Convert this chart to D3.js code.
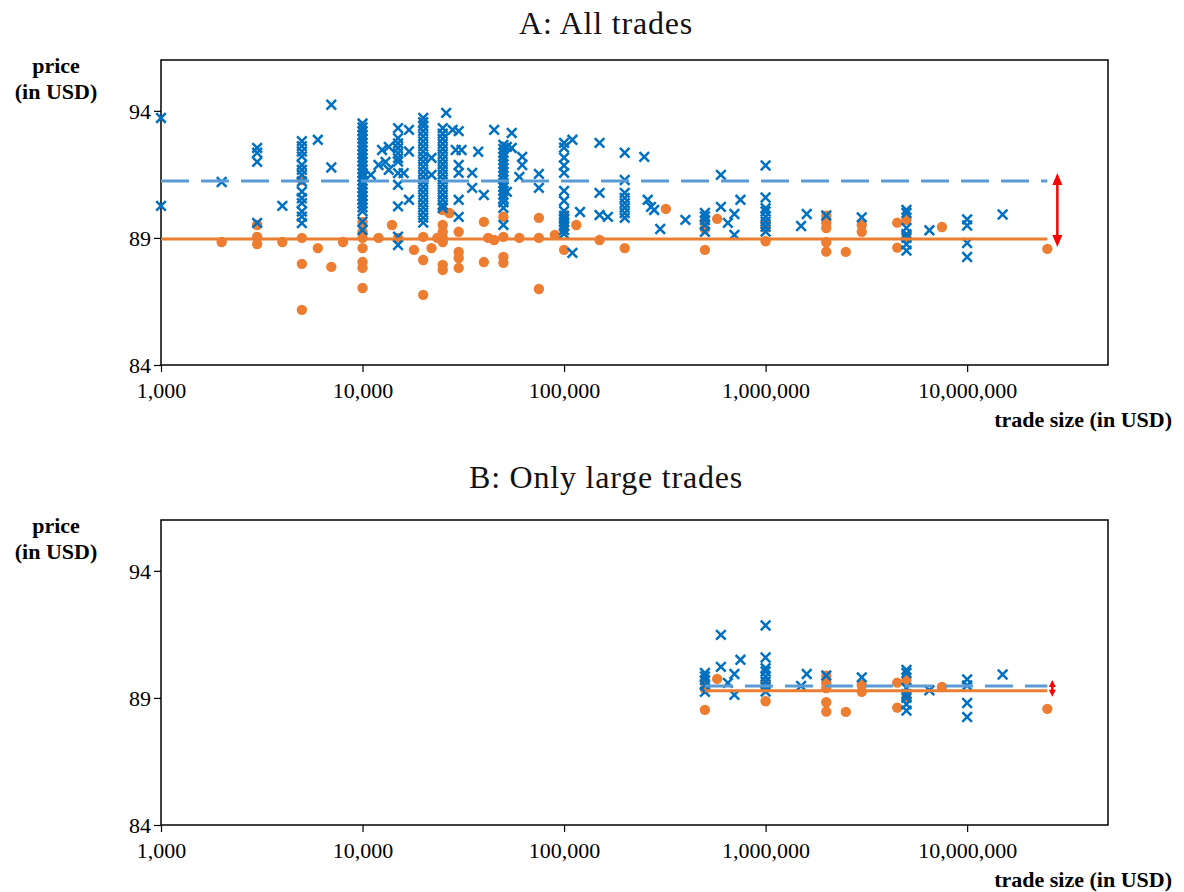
<!DOCTYPE html>
<html><head><meta charset="utf-8">
<script src="https://cdn.jsdelivr.net/npm/d3@7"></script>
<style>body{margin:0;background:#fff} svg{display:block}</style>
</head><body><svg id="c" width="1184" height="892"></svg>
<script>
// ---- data (trade size in USD, prices in USD) ----
const blueSizes = [1000,2000,3000,4000,5000,6000,7000,10000,11000,12000,12500,13000,13500,15000,16000,17000,20000,22000,25000,26000,28000,29000,30000,31000,35000,37500,40000,45000,50000,52000,55000,60000,62000,75000,100000,110000,120000,150000,165000,200000,250000,260000,270000,280000,300000,400000,500000,600000,650000,700000,750000,1000000,1500000,1600000,2000000,3000000,5000000,6500000,10000000,15000000];
const bluePrices = [
  [93.72,90.26],[91.2],[92.54,92.35,91.99,89.59],[90.26],
  [92.81,92.61,92.40,92.21,91.87,91.68,91.48,91.22,90.82,90.56,90.37,90.04,89.84,89.58],
  [92.86],[94.24,91.77],
  [93.5,93.35,93.2,93.05,92.9,92.75,92.6,92.45,92.3,92.15,92.0,91.85,91.7,91.55,91.4,91.25,91.1,90.95,90.8,90.65,90.5,90.35,90.2,90.05,89.64,89.31],
  [91.48],[91.87],[92.46],[91.99],[92.58,91.68],
  [93.32,92.92,92.72,92.53,92.33,92.14,92.0,91.55,91.09,90.24,89.05,88.72],
  [91.55],[93.25,92.4,90.5],
  [93.72,93.55,93.4,93.2,93.0,92.8,92.6,92.4,92.2,92.0,91.8,91.6,91.4,91.2,91.0,90.8,90.6,90.4,90.2,90.0,89.8,89.6],
  [92.15,91.48],
  [93.32,93.1,92.9,92.7,92.5,92.3,92.1,91.9,91.7,91.5,91.3,91.1,90.9,90.7,90.5,90.3,90.17],
  [93.92],[93.25],[92.46],[93.2,91.87,91.56,90.5,89.83],[92.46],[91.56,90.97],[92.39],[90.69],[93.25],
  [92.66,92.5,92.35,92.2,92.05,91.9,91.75,91.6,91.45,91.3,91.15,91.0,90.85,90.7,90.55,90.4,90.18,89.51],
  [92.58,90.81],[93.13,92.54],[91.4],[92.19,91.87],[91.52,90.97],
  [92.74,92.55,92.16,91.85,91.56,90.85,90.46,90.06,89.87,89.75,89.63,89.48,89.31,89.16],
  [92.86,88.41],[90.02],[92.74,90.77,89.9],[89.83],
  [92.35,91.28,90.77,90.57,90.37,90.18,89.98,89.79],
  [92.19],[90.5],[90.22],[90.1],[89.35],[89.71],
  [89.98,89.85,89.7,89.5,89.24],
  [91.48,90.22],[89.59],[89.94,89.12],[90.5],
  [91.85,90.59,90.17,90.04,89.84,89.64,89.44,89.25],
  [89.47],[89.94],[89.88],[89.81],
  [90.1,89.98,89.39,89.15,89.0,88.75,88.5],
  [89.3],[89.73,89.49,88.8,88.25],[89.92]
];
const orangeSizes = [2000,3000,4000,5000,6000,7000,8000,10000,12000,14000,15000,18000,20000,22000,23500,25000,27000,30000,40000,42000,45000,50000,60000,75000,90000,100000,115000,150000,200000,320000,500000,575000,1000000,2000000,2500000,3000000,4500000,5000000,7500000,25000000];
const orangePrices = [
  [88.84],[89.51,89.04,88.76],[88.84],[91.28,89.0,87.98,86.17],[88.6],[87.86],[88.84],
  [89.63,89.24,89.0,88.6,88.05,87.82,87.03],
  [89.0],[89.51],[89.0],[88.53],[89.04,88.13,86.76],[88.6],[89.0],
  [90.1,89.51,89.24,89.0,88.84,87.94,87.74],
  [89.98],[89.24,88.45,88.21,87.82],[89.63,88.05],[89.0],[88.92],
  [89.83,89.04,88.25,88.02],[89.0],[89.79,89.0,86.99],[89.12],
  [89.9,89.6,89.35,88.53],[89.51],[88.92],[88.6],[90.14],
  [89.64,89.35,88.53],[89.75],[89.6,89.4,88.87],
  [89.87,89.59,89.39,88.83,88.46],[88.45],[89.51,89.24],[89.6,88.62],[89.71,89.02],[89.43],[88.57]
];
const panelTitles = ["A: All trades", "B: Only large trades"];
const largeTradeMin = 500000;          // panel B keeps trades of this size and above
const meanBlue   = [91.24, 89.47];     // dashed average line, panels A and B
const meanOrange = [88.96, 89.28];     // solid average line, panels A and B
const lineEnd = 25000000;
const xTicks = [1000, 10000, 100000, 1000000, 10000000];
const yTicks = [84, 89, 94];
const xDomain = [1000, 50000000];
const yDomain = [84, 96];

// ---- drawing ----
const blue = blueSizes.flatMap((s,i)=>bluePrices[i].map(p=>({s,p})));
const orange = orangeSizes.flatMap((s,i)=>orangePrices[i].map(p=>({s,p})));

const svg = d3.select("#c");
const W = 947, H = 305, L = 161;
const x = d3.scaleLog().domain(xDomain).range([L, L+W]);
const serif = "'Liberation Serif','Times New Roman',serif";

const panels = [
  {top:60, titleY:34, start:1000, arrowDx:10, headW:10, headL:12, tip:8},
  {top:520, titleY:488, start:largeTradeMin, arrowDx:5, headW:7, headL:7, tip:6}
];

panels.forEach((P, k) => {
  const y = d3.scaleLinear().domain(yDomain).range([P.top+H, P.top]);
  const g = svg.append("g");
  const filt = d => k===0 || d.s >= largeTradeMin;

  // title
  g.append("text").attr("x", 606).attr("y", P.titleY).attr("text-anchor","middle")
    .attr("font-family", serif).attr("font-size", 32).attr("letter-spacing", 0.8)
    .attr("fill","#111").text(panelTitles[k]);

  // axes
  const xa = g.append("g").attr("transform",`translate(0,${P.top+H})`)
    .call(d3.axisBottom(x).tickValues(xTicks).tickFormat(d3.format(",")).tickSize(7).tickPadding(10));
  const ya = g.append("g").attr("transform",`translate(${L},0)`)
    .call(d3.axisLeft(y).tickValues(yTicks).tickSize(7).tickPadding(3));
  [xa, ya].forEach(a => {
    a.select(".domain").remove();
    a.selectAll("line").attr("stroke","#000").attr("stroke-width",1.2);
    a.selectAll("text").attr("font-family", serif).attr("font-size", 22).attr("fill","#000");
  });
  ya.selectAll("text").attr("dy","0.35em");

  // frame
  g.append("rect").attr("x", L).attr("y", P.top).attr("width", W).attr("height", H)
    .attr("fill","none").attr("stroke","#000").attr("stroke-width",1.5);

  // axis labels
  const lab = g.append("text").attr("font-family", serif).attr("font-weight","bold")
    .attr("font-size", 22).attr("text-anchor","middle").attr("fill","#000");
  lab.append("tspan").attr("x", 56).attr("y", P.top+13).text("price");
  lab.append("tspan").attr("x", 56).attr("y", P.top+39).text("(in USD)");
  g.append("text").attr("x", 1172).attr("y", P.top+H+62).attr("text-anchor","end")
    .attr("font-family", serif).attr("font-weight","bold").attr("font-size", 22)
    .attr("fill","#000").text("trade size (in USD)");

  // orange dots
  g.append("g").selectAll("circle").data(orange.filter(filt)).join("circle")
    .attr("cx", d=>x(d.s)).attr("cy", d=>y(d.p)).attr("r", 5.2).attr("fill","#ED7D31");
  // blue crosses
  g.append("g").selectAll("path").data(blue.filter(filt)).join("path")
    .attr("transform", d=>`translate(${x(d.s)},${y(d.p)})`)
    .attr("d","M-4.8,-4.8L4.8,4.8M-4.8,4.8L4.8,-4.8")
    .attr("stroke","#0070C0").attr("stroke-width",2.5).attr("fill","none");

  // average lines
  g.append("line").attr("x1", x(P.start)).attr("x2", x(lineEnd))
    .attr("y1", y(meanOrange[k])).attr("y2", y(meanOrange[k]))
    .attr("stroke","#ED7D31").attr("stroke-width",3);
  g.append("line").attr("x1", x(P.start)).attr("x2", x(lineEnd))
    .attr("y1", y(meanBlue[k])).attr("y2", y(meanBlue[k]))
    .attr("stroke","#5B9BD5").attr("stroke-width",3).attr("stroke-dasharray","28,12");

  // red double arrow
  const ax = x(lineEnd) + P.arrowDx;
  const yT = y(meanBlue[k]) - P.tip, yB = y(meanOrange[k]) + P.tip;
  g.append("line").attr("x1", ax).attr("x2", ax).attr("y1", yT + P.headL - 1).attr("y2", yB - P.headL + 1)
    .attr("stroke","#FF0000").attr("stroke-width",2.5);
  g.append("path").attr("fill","#FF0000")
    .attr("d", `M${ax},${yT}L${ax-P.headW/2},${yT+P.headL}L${ax+P.headW/2},${yT+P.headL}Z`);
  g.append("path").attr("fill","#FF0000")
    .attr("d", `M${ax},${yB}L${ax-P.headW/2},${yB-P.headL}L${ax+P.headW/2},${yB-P.headL}Z`);
});
</script>
</body></html>
